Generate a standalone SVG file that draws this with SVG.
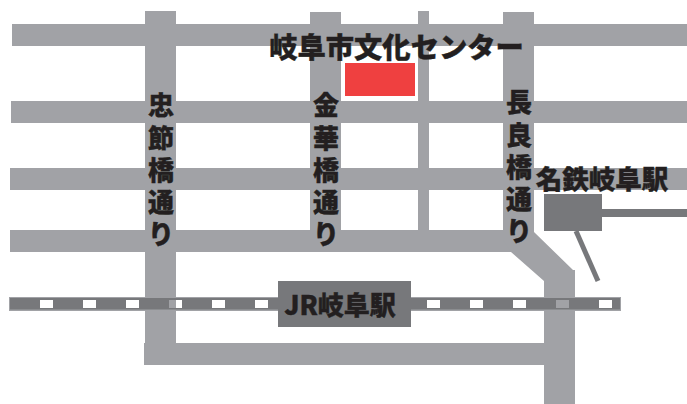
<svg xmlns="http://www.w3.org/2000/svg" width="687" height="404" viewBox="0 0 687 404">
<style>
.road{fill:#a1a2a6}
.dark{fill:#77787b}
.win{fill:#fff}
.t{font-family:"Noto Sans CJK JP","Noto Sans CJK SC",sans-serif;font-weight:900;fill:#231f20;stroke:#231f20;stroke-width:.4;text-anchor:middle}
.v{font-size:26px}
</style>
<rect width="687" height="404" fill="#fff"/>
<g id="roads">
<rect class="road" x="12" y="24" width="675" height="22"/>
<rect class="road" x="11" y="101" width="676" height="22"/>
<rect class="road" x="10" y="168" width="677" height="22"/>
<rect class="road" x="10" y="230" width="510" height="22"/>
<rect class="road" x="145" y="11" width="31" height="345"/>
<rect class="road" x="310" y="12" width="31" height="235"/>
<rect class="road" x="418" y="11" width="11" height="225"/>
<rect class="road" x="144" y="343" width="410" height="22"/>
<polygon class="road" points="503,12 534,12 534,232 573,270 575,270 575,404 544,404 544,281 511,252 503,240"/>
</g>
<g id="rail">
<rect class="road" x="9" y="297" width="612" height="14"/>
<rect class="dark" x="10" y="298" width="610" height="11.500"/>
<g class="win">
<rect x="40" y="300" width="13" height="8"/><rect x="83" y="300" width="13" height="8"/><rect x="126" y="300" width="13" height="8"/><rect x="176" y="300" width="6" height="8"/><rect x="212" y="300" width="13" height="8"/><rect x="255" y="300" width="13" height="8"/>
<rect x="427" y="300" width="13" height="8"/><rect x="470" y="300" width="13" height="8"/><rect x="513" y="300" width="13" height="8"/><rect x="599" y="300" width="13" height="8"/>
</g>
<rect class="road" x="169" y="300" width="7" height="8"/>
<rect class="road" x="556" y="300" width="13" height="8"/>
</g>
<g id="meitetsu-line">
<rect class="dark" x="600" y="209" width="87" height="8"/>
<line x1="576" y1="231" x2="598" y2="281" stroke="#77787b" stroke-width="5"/>
</g>
<g id="center">
<rect x="345" y="63" width="70" height="33" fill="#ef4040"/>
<text class="t" x="396.500" y="58" font-size="28.300">岐阜市文化センター</text>
</g>
<g id="jr-station">
<rect class="dark" x="278" y="281" width="133" height="46"/>
<text class="t" x="340" y="315" font-size="26">JR岐阜駅</text>
</g>
<g id="meitetsu-station">
<rect class="dark" x="544" y="194" width="58" height="37"/>
<text class="t" x="602" y="189" font-size="26.500">名鉄岐阜駅</text>
</g>
<g id="label-chusetsu" class="t v">
<text x="161" y="115">忠</text><text x="161" y="148">節</text><text x="161" y="180">橋</text><text x="161" y="212">通</text><text x="161" y="244">り</text>
</g>
<g id="label-kinka" class="t v">
<text x="326" y="115">金</text><text x="326" y="148">華</text><text x="326" y="180">橋</text><text x="326" y="212">通</text><text x="326" y="244">り</text>
</g>
<g id="label-nagara" class="t v">
<text x="519" y="112">長</text><text x="519" y="145">良</text><text x="519" y="177">橋</text><text x="519" y="209">通</text><text x="519" y="241">り</text>
</g>
</svg>
